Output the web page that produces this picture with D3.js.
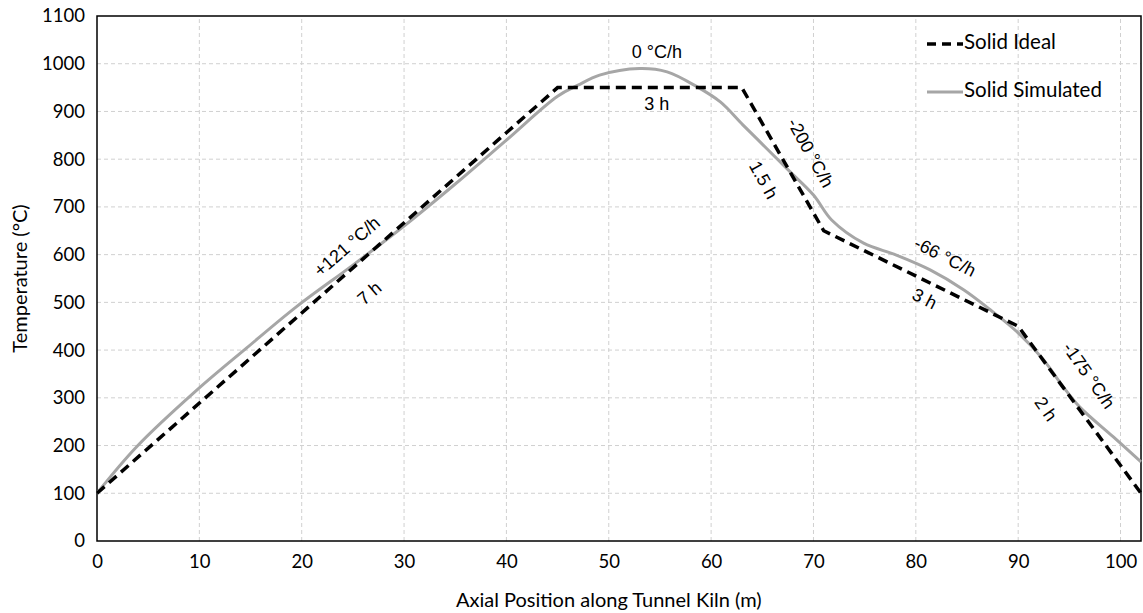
<!DOCTYPE html>
<html>
<head>
<meta charset="utf-8">
<script src="https://cdn.jsdelivr.net/npm/d3@7"></script>
<style>
  body { margin: 0; background: #fff; }
  svg text { font-family: Lato, "Open Sans", sans-serif; fill: #000; }
  .grid line { stroke: #d0d0d0; stroke-dasharray: 4,3; }
  .annot { font-family: "Liberation Sans", Arial, sans-serif; font-size: 18px; }
</style>
</head>
<body>
<svg id="chart" width="1143" height="613"></svg>
<script>
// kiln schedule
let idealX = [0, 45, 63, 71, 90, 102]
let idealT = [100, 950, 950, 650, 450, 100]

let simX = [0, 3.9, 9.75, 14.6, 19.5, 25, 30, 35, 40, 45, 47, 49.1, 53, 55.7, 58.6, 60.9, 63.1, 65.4, 67.7, 70, 71.8, 74.9, 78.1, 81.4, 84.7, 87.3, 89.9, 92.5, 94.4, 96, 99.3, 102]
let simT = [100, 198, 316, 404, 491, 578, 660, 748, 840, 932, 955, 976, 990, 983, 952, 920, 872, 823, 774, 725, 672, 624, 599, 568, 526, 484, 438, 379, 323, 281, 218, 166]

let xTicks = [0, 10, 20, 30, 40, 50, 60, 70, 80, 90, 100]
let yTicks = [0, 100, 200, 300, 400, 500, 600, 700, 800, 900, 1000, 1100]

// annotations: x, T position, rotation, text
let labels = [
  { x: 54.7, t: 1021, rot: 0, text: "0 °C/h" },
  { x: 54.7, t: 912, rot: 0, text: "3 h" },
  { x: 24.5, t: 615, rot: -41, text: "+121 °C/h" },
  { x: 26.7, t: 517, rot: -41, text: "7 h" },
  { x: 69.6, t: 812, rot: 61, text: "-200 °C/h" },
  { x: 65, t: 755, rot: 61, text: "1.5 h" },
  { x: 82.8, t: 593, rot: 27, text: "-66 °C/h" },
  { x: 80.8, t: 505, rot: 27, text: "3 h" },
  { x: 96.8, t: 345, rot: 55, text: "-175 °C/h" },
  { x: 92.6, t: 275, rot: 55, text: "2 h" }
]

let svg = d3.select("#chart")
let margin = { top: 16, right: 2, bottom: 72, left: 97 }
let width = 1143, height = 613

let x = d3.scaleLinear().domain([0, 102]).range([margin.left, width - margin.right])
let y = d3.scaleLinear().domain([0, 1100]).range([height - margin.bottom, margin.top])

// grid
let grid = svg.append("g").attr("class", "grid")
grid.selectAll(".gx").data(xTicks.filter(d => d > 0))
  .join("line")
  .attr("x1", d => x(d)).attr("x2", d => x(d))
  .attr("y1", y(0)).attr("y2", y(1100))
grid.selectAll(".gy").data(yTicks.filter(d => d > 0 && d < 1100))
  .join("line")
  .attr("x1", x(0)).attr("x2", x(102))
  .attr("y1", d => y(d)).attr("y2", d => y(d))

// axes
svg.append("g")
  .attr("transform", `translate(0,${y(0)})`)
  .call(d3.axisBottom(x).tickValues(xTicks).tickSize(0).tickPadding(14).tickFormat(d3.format("d")))
svg.append("g")
  .attr("transform", `translate(${x(0)},0)`)
  .call(d3.axisLeft(y).tickValues(yTicks).tickSize(0).tickPadding(12).tickFormat(d3.format("d")))
svg.selectAll(".tick text").style("font-size", "18.5px")
svg.selectAll(".domain").remove()

// plot frame
svg.append("rect")
  .attr("x", x(0)).attr("y", y(1100))
  .attr("width", x(102) - x(0)).attr("height", y(0) - y(1100))
  .style("fill", "none").style("stroke", "#000").style("stroke-width", 1.5)

let simLine = d3.line()
  .x(d => x(d[0]))
  .y(d => y(d[1]))
  .curve(d3.curveCatmullRom.alpha(0.5))

let idealLine = d3.line()
  .x(d => x(d[0]))
  .y(d => y(d[1]))

svg.append("path")
  .datum(d3.zip(simX, simT))
  .attr("d", simLine)
  .style("fill", "none").style("stroke", "#a6a6a6").style("stroke-width", 3)

svg.append("path")
  .datum(d3.zip(idealX, idealT))
  .attr("d", idealLine)
  .style("fill", "none").style("stroke", "#000").style("stroke-width", 3.5)
  .style("stroke-dasharray", "10,6")

// annotations
svg.append("g").selectAll("text").data(labels)
  .join("text")
  .attr("class", "annot")
  .attr("text-anchor", "middle")
  .attr("dominant-baseline", "middle")
  .attr("transform", d => `translate(${x(d.x)},${y(d.t)}) rotate(${d.rot})`)
  .text(d => d.text)

// legend
let legend = svg.append("g").attr("transform", "translate(927,44)")
legend.append("line").attr("x1", 0).attr("x2", 36).attr("y1", 0).attr("y2", 0)
  .style("stroke", "#000").style("stroke-width", 3.5).style("stroke-dasharray", "9,6")
legend.append("text").attr("x", 37).attr("y", 0).attr("dominant-baseline", "middle")
  .style("font-size", "20.5px").text("Solid Ideal")
legend.append("line").attr("x1", 0).attr("x2", 36).attr("y1", 48).attr("y2", 48)
  .style("stroke", "#a6a6a6").style("stroke-width", 3)
legend.append("text").attr("x", 37).attr("y", 48).attr("dominant-baseline", "middle")
  .style("font-size", "20.5px").text("Solid Simulated")

// axis titles
svg.append("text")
  .attr("text-anchor", "middle")
  .attr("x", (x(0) + x(100)) / 2).attr("y", 607)
  .style("font-size", "20px")
  .text("Axial Position along Tunnel Kiln (m)")

svg.append("text")
  .attr("text-anchor", "middle")
  .attr("transform", `translate(27,${(y(0) + y(1100)) / 2}) rotate(-90)`)
  .style("font-size", "20px")
  .text("Temperature (°C)")
</script>
</body>
</html>
